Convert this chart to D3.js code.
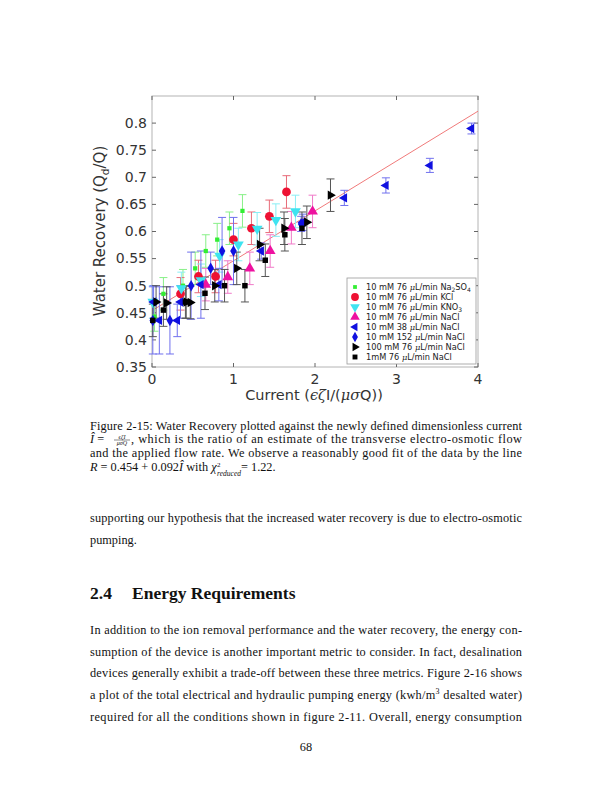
<!DOCTYPE html>
<html>
<head>
<meta charset="utf-8">
<script src="https://cdn.jsdelivr.net/npm/d3@7"></script>
<style>
  body { margin: 0; background: #fff; }
  svg { display: block; }
</style>
</head>
<body>
<div id="page"></div>
<script>
// legend labels
const seriesNames = [
  "Na2SO4", "KCl", "KNO3", "NaCl76", "NaCl38", "NaCl152", "NaCl100mM", "NaCl1mM"
];

// 10 mM 76 uL/min Na2SO4
const na2so4X = [0.03, 0.14, 0.38, 0.53, 0.66, 0.80, 0.95, 1.11];
const na2so4Y = [0.443, 0.485, 0.500, 0.532, 0.564, 0.585, 0.606, 0.638];
const na2so4E = [0.027, 0.030, 0.030, 0.030, 0.030, 0.030, 0.030, 0.030];

// 10 mM 76 uL/min KCl
const kclX = [0.35, 0.57, 0.78, 1.00, 1.22, 1.44, 1.65];
const kclY = [0.485, 0.517, 0.517, 0.585, 0.606, 0.628, 0.673];
const kclE = [0.030, 0.030, 0.030, 0.030, 0.030, 0.030, 0.030];

// 10 mM 76 uL/min KNO3
const kno3X = [0.01, 0.36, 0.60, 0.83, 1.06, 1.29, 1.52, 1.76];
const kno3Y = [0.470, 0.495, 0.510, 0.555, 0.576, 0.605, 0.621, 0.637];
const kno3E = [0.030, 0.030, 0.030, 0.030, 0.030, 0.030, 0.030, 0.030];

// 10 mM 76 uL/min NaCl
const nacl76X = [0.66, 0.93, 1.20, 1.45, 1.71, 1.97];
const nacl76Y = [0.502, 0.516, 0.532, 0.564, 0.607, 0.637];
const nacl76E = [0.030, 0.030, 0.030, 0.030, 0.030, 0.030];

// 10 mM 38 uL/min NaCl
const nacl38X = [0.02, 0.09, 0.31, 0.35, 0.60, 0.82, 1.34, 1.85, 2.36, 2.87, 3.41, 3.92];
const nacl38Y = [0.470, 0.436, 0.436, 0.470, 0.502, 0.502, 0.564, 0.617, 0.662, 0.685, 0.722, 0.790];
const nacl38E = [0.030, 0.062, 0.030, 0.030, 0.062, 0.030, 0.015, 0.015, 0.014, 0.014, 0.013, 0.010];

// 10 mM 152 uL/min NaCl
const nacl152X = [0.01, 0.22, 0.48, 0.72, 0.86, 1.00, 1.83];
const nacl152Y = [0.436, 0.436, 0.500, 0.532, 0.564, 0.564, 0.614];
const nacl152E = [0.062, 0.062, 0.062, 0.030, 0.062, 0.062, 0.014];

// 100 mM 76 uL/min NaCl
const nacl100X = [0.05, 0.18, 0.42, 0.47, 0.77, 1.04, 1.32, 1.62, 1.90, 2.19];
const nacl100Y = [0.470, 0.468, 0.470, 0.469, 0.500, 0.532, 0.576, 0.606, 0.617, 0.667];
const nacl100E = [0.030, 0.030, 0.030, 0.030, 0.030, 0.030, 0.030, 0.030, 0.030, 0.030];

// 1mM 76 uL/min NaCl
const nacl1X = [0.01, 0.14, 0.41, 0.65, 0.89, 1.14, 1.39, 1.63, 1.84];
const nacl1Y = [0.436, 0.455, 0.470, 0.486, 0.500, 0.500, 0.547, 0.594, 0.606];
const nacl1E = [0.030, 0.030, 0.030, 0.030, 0.030, 0.030, 0.030, 0.030, 0.030];

// fit R = 0.454 + 0.092 I
const fitA = 0.454, fitB = 0.092;
const xTicks = [0, 1, 2, 3, 4];
const yTicks = [0.35, 0.4, 0.45, 0.5, 0.55, 0.6, 0.65, 0.7, 0.75, 0.8];

const W = 612, H = 792;
const svg = d3.select("#page").append("svg").attr("width", W).attr("height", H);

const x = d3.scaleLinear().domain([0, 4]).range([152, 478]);
const y = d3.scaleLinear().domain([0.35, 0.85]).range([367, 96]);

const sans = "DejaVu Sans";
const serif = "Liberation Serif";

// frame
svg.append("rect")
  .attr("x", x(0)).attr("y", y(0.85))
  .attr("width", x(4) - x(0)).attr("height", y(0.35) - y(0.85))
  .attr("fill", "none").attr("stroke", "#b4b4b4").attr("stroke-width", 1);

// ticks
const tk = 4;
yTicks.forEach(t => {
  svg.append("line").attr("x1", x(0)).attr("x2", x(0) + tk).attr("y1", y(t)).attr("y2", y(t)).attr("stroke", "#666");
  svg.append("line").attr("x1", x(4)).attr("x2", x(4) - tk).attr("y1", y(t)).attr("y2", y(t)).attr("stroke", "#666");
  svg.append("text").attr("x", x(0) - 5).attr("y", y(t) + 4.8)
    .attr("text-anchor", "end").attr("font-family", sans).attr("font-size", 14).attr("fill", "#333")
    .text(Math.round(t * 100) % 10 === 0 ? t.toFixed(1) : t.toFixed(2));
});
xTicks.forEach(t => {
  svg.append("line").attr("x1", x(t)).attr("x2", x(t)).attr("y1", y(0.35)).attr("y2", y(0.35) - tk).attr("stroke", "#666");
  svg.append("line").attr("x1", x(t)).attr("x2", x(t)).attr("y1", y(0.85)).attr("y2", y(0.85) + tk).attr("stroke", "#666");
  svg.append("text").attr("x", x(t)).attr("y", y(0.35) + 17)
    .attr("text-anchor", "middle").attr("font-family", sans).attr("font-size", 14).attr("fill", "#333")
    .text(t);
});

// axis labels
const xl = svg.append("text").attr("x", 314).attr("y", 400)
  .attr("text-anchor", "middle").attr("font-family", sans).attr("font-size", 14.5).attr("fill", "#333");
xl.append("tspan").text("Current (");
["ϵ", "ζ"].forEach(c => xl.append("tspan").attr("font-style", "italic").attr("font-family", "DejaVu Serif").text(c));
xl.append("tspan").text("I/(");
["μ", "σ"].forEach(c => xl.append("tspan").attr("font-style", "italic").attr("font-family", "DejaVu Serif").text(c));
xl.append("tspan").text("Q))");

const yl = svg.append("text").attr("transform", "translate(105,231) rotate(-90)")
  .attr("text-anchor", "middle").attr("font-family", sans).attr("font-size", 15).attr("fill", "#333");
yl.append("tspan").text("Water Recovery (Q");
yl.append("tspan").attr("font-size", 10.5).attr("dy", 4).text("d");
yl.append("tspan").attr("dy", -4).text("/Q)");

// fit line
svg.append("line")
  .attr("x1", x(0)).attr("y1", y(fitA))
  .attr("x2", x(4)).attr("y2", y(fitA + fitB * 4))
  .attr("stroke", "#f07a7a").attr("stroke-width", 1);

const tri = d3.symbolTriangle;
const series = [
  { xs: na2so4X, ys: na2so4Y, es: na2so4E, color: "#33ee33", bar: "#88f088", type: d3.symbolSquare, size: 18, rot: 0 },
  { xs: kclX, ys: kclY, es: kclE, color: "#ee1133", bar: "#e86a78", type: d3.symbolCircle, size: 60, rot: 0 },
  { xs: kno3X, ys: kno3Y, es: kno3E, color: "#3fe3f0", bar: "#8aeef5", type: tri, size: 50, rot: 180 },
  { xs: nacl76X, ys: nacl76Y, es: nacl76E, color: "#ee11a0", bar: "#f07ac8", type: tri, size: 50, rot: 0 },
  { xs: nacl38X, ys: nacl38Y, es: nacl38E, color: "#1010e0", bar: "#7070ee", type: tri, size: 38, rot: -90 },
  { xs: nacl152X, ys: nacl152Y, es: nacl152E, color: "#1010e0", bar: "#7070ee", type: d3.symbolDiamond, size: 38, rot: 0 },
  { xs: nacl100X, ys: nacl100Y, es: nacl100E, color: "#000000", bar: "#555555", type: tri, size: 38, rot: 90 },
  { xs: nacl1X, ys: nacl1Y, es: nacl1E, color: "#000000", bar: "#555555", type: d3.symbolSquare, size: 30, rot: 0 }
];

const cap = 4;
series.forEach(s => {
  const g = svg.append("g");
  s.xs.forEach((v, i) => {
    const cx = x(v), y0 = y(s.ys[i] - s.es[i]), y1 = y(s.ys[i] + s.es[i]);
    g.append("line").attr("x1", cx).attr("x2", cx).attr("y1", y0).attr("y2", y1).attr("stroke", s.bar).attr("stroke-width", 1);
    g.append("line").attr("x1", cx - cap).attr("x2", cx + cap).attr("y1", y0).attr("y2", y0).attr("stroke", s.bar).attr("stroke-width", 1);
    g.append("line").attr("x1", cx - cap).attr("x2", cx + cap).attr("y1", y1).attr("y2", y1).attr("stroke", s.bar).attr("stroke-width", 1);
  });
});
series.forEach(s => {
  svg.append("g").selectAll("path").data(s.xs).enter().append("path")
    .attr("d", d3.symbol().type(s.type).size(s.size))
    .attr("transform", (v, i) => `translate(${x(v)},${y(s.ys[i])}) rotate(${s.rot})`)
    .attr("fill", s.color);
});

// legend
const lg = svg.append("g");
lg.append("rect").attr("x", 347).attr("y", 278).attr("width", 129).attr("height", 86)
  .attr("fill", "#fff").attr("stroke", "#999").attr("stroke-width", 0.8);
const legendLabels = [
  ["10 mM 76 ", "μ", "L/min Na", "2", "SO", "4"],
  ["10 mM 76 ", "μ", "L/min KCl"],
  ["10 mM 76 ", "μ", "L/min KNO", "3"],
  ["10 mM 76 ", "μ", "L/min NaCl"],
  ["10 mM 38 ", "μ", "L/min NaCl"],
  ["10 mM 152 ", "μ", "L/min NaCl"],
  ["100 mM 76 ", "μ", "L/min NaCl"],
  ["1mM 76 ", "μ", "L/min NaCl"]
];
series.forEach((s, i) => {
  const ly = 287 + i * 10;
  lg.append("path").attr("d", d3.symbol().type(s.type).size(s.size * 0.8))
    .attr("transform", `translate(355,${ly}) rotate(${s.rot})`).attr("fill", s.color);
  const t = lg.append("text").attr("x", 366).attr("y", ly + 3)
    .attr("font-family", sans).attr("font-size", 8.2).attr("fill", "#222");
  const parts = legendLabels[i];
  parts.forEach((p, j) => {
    if (j === 1) t.append("tspan").attr("font-style", "italic").attr("font-family", "DejaVu Serif").text(p);
    else if (j >= 3 && j % 2 === 1) t.append("tspan").attr("font-size", 6).attr("dy", 2).text(p);
    else if (j >= 4) t.append("tspan").attr("dy", -2).text(p);
    else t.append("tspan").text(p);
  });
});

// caption and page text
const L = 90, R = 522;
function line(txt, yy, justify, size) {
  const t = svg.append("text").attr("x", L).attr("y", yy)
    .attr("font-family", serif).attr("font-size", size || 12.3).attr("fill", "#111").text(txt);
  if (justify) t.attr("textLength", R - L).attr("lengthAdjust", "spacing");
  return t;
}

line("Figure 2-15: Water Recovery plotted against the newly defined dimensionless current", 430, true);

// second caption line with fraction
const c2 = svg.append("text").attr("x", L).attr("y", 443).attr("font-family", serif).attr("font-size", 12.3).attr("fill", "#111");
c2.append("tspan").attr("font-style", "italic").text("Î");
c2.append("tspan").text(" = ");
svg.append("text").attr("x", 122).attr("y", 438.5).attr("text-anchor", "middle")
  .attr("font-family", serif).attr("font-style", "italic").attr("font-size", 6).attr("fill", "#111").text("ϵζI");
svg.append("line").attr("x1", 114).attr("x2", 130).attr("y1", 440).attr("y2", 440).attr("stroke", "#111").attr("stroke-width", 0.5);
svg.append("text").attr("x", 122).attr("y", 445).attr("text-anchor", "middle")
  .attr("font-family", serif).attr("font-style", "italic").attr("font-size", 6).attr("fill", "#111").text("μσQ");
svg.append("text").attr("x", 131).attr("y", 443).attr("font-family", serif).attr("font-size", 12.3).attr("fill", "#111")
  .attr("textLength", R - 131).attr("lengthAdjust", "spacing")
  .text(", which is the ratio of an estimate of the transverse electro-osmotic flow");

line("and the applied flow rate. We observe a reasonably good fit of the data by the line", 457, true);

// last caption line: chi^2 with stacked sub/superscript as separate texts
const c4y = 471;
const c4 = svg.append("text").attr("x", L).attr("y", c4y).attr("font-family", serif).attr("font-size", 12.3).attr("fill", "#111");
c4.append("tspan").attr("font-style", "italic").text("R");
c4.append("tspan").text(" = 0.454 + 0.092");
c4.append("tspan").attr("font-style", "italic").text("Î");
c4.append("tspan").text(" with ");
c4.append("tspan").attr("font-style", "italic").text("χ");
const chiEnd = c4.node().getComputedTextLength() + L;
svg.append("text").attr("x", chiEnd + 0.5).attr("y", c4y - 4).attr("font-family", serif)
  .attr("font-size", 7).attr("fill", "#111").text("2");
const sub = svg.append("text").attr("x", chiEnd + 0.5).attr("y", c4y + 4.5).attr("font-family", serif)
  .attr("font-size", 7.5).attr("font-style", "italic").attr("fill", "#111").text("reduced");
const subEnd = chiEnd + 0.5 + sub.node().getComputedTextLength();
svg.append("text").attr("x", subEnd).attr("y", c4y).attr("font-family", serif)
  .attr("font-size", 12.3).attr("fill", "#111").text(" = 1.22.");

line("supporting our hypothesis that the increased water recovery is due to electro-osmotic", 522, true);
line("pumping.", 544, false);

svg.append("text").attr("x", L).attr("y", 599).attr("font-family", serif).attr("font-weight", "bold")
  .attr("font-size", 17.5).attr("fill", "#111").text("2.4");
svg.append("text").attr("x", 132).attr("y", 599).attr("font-family", serif).attr("font-weight", "bold")
  .attr("font-size", 17.5).attr("fill", "#111").text("Energy Requirements");

line("In addition to the ion removal performance and the water recovery, the energy con-", 634, true);
line("sumption of the device is another important metric to consider. In fact, desalination", 656, true);
line("devices generally exhibit a trade-off between these three metrics. Figure 2-16 shows", 677, true);
const p4 = svg.append("text").attr("x", L).attr("y", 699).attr("font-family", serif).attr("font-size", 12.3).attr("fill", "#111")
  .attr("textLength", R - L).attr("lengthAdjust", "spacing");
p4.append("tspan").text("a plot of the total electrical and hydraulic pumping energy (kwh/m");
p4.append("tspan").attr("font-size", 8).attr("dy", -5).text("3");
p4.append("tspan").attr("dy", 5).text(" desalted water)");
line("required for all the conditions shown in figure 2-11. Overall, energy consumption", 721, true);

svg.append("text").attr("x", 306).attr("y", 751).attr("text-anchor", "middle")
  .attr("font-family", serif).attr("font-size", 12.3).attr("fill", "#111").text("68");
</script>
</body>
</html>
